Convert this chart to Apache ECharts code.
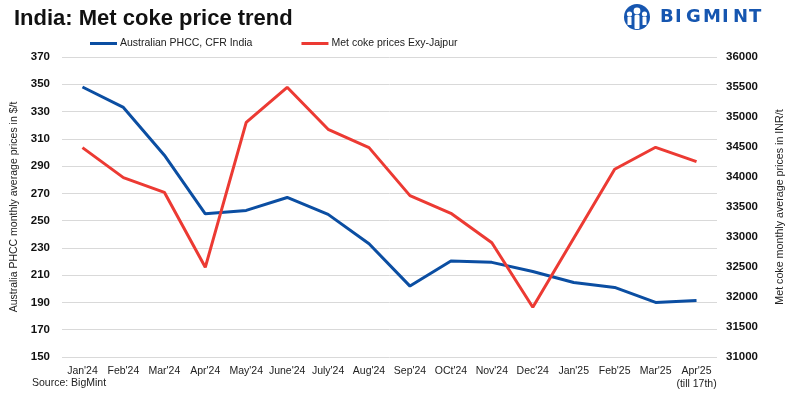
<!DOCTYPE html>
<html><head><meta charset="utf-8">
<script src="https://cdn.jsdelivr.net/npm/echarts@6/dist/echarts.min.js"></script>
<style>html,body{margin:0;padding:0;background:#fff}#c{width:794px;height:394px}</style>
</head><body><div id="c"></div>
<script>
const categories = ["Jan'24","Feb'24","Mar'24","Apr'24","May'24","June'24","July'24","Aug'24","Sep'24","OCt'24","Nov'24","Dec'24","Jan'25","Feb'25","Mar'25","Apr'25\n(till 17th)"];
const phcc = [348,333,298,255,257.5,267,254.6,233,202,220.4,219.4,212.7,204.6,201,190,191.5];
const metCoke = [34490,33990,33745,32495,34910,35495,34795,34490,33690,33395,32905,31830,32980,34130,34495,34255];
const leftTicks = {min:150,max:370,interval:20};
const rightTicks = {min:31000,max:36000,interval:500};

const chart = echarts.init(document.getElementById('c'), null, {renderer:'canvas'});
const font = 'Liberation Sans, Arial, sans-serif';
const logoLetters = ['B','I','G','M','I','N','T'];
const logoX = [660,675,686,703,722,733,749];
const logo = logoLetters.map((ch,i)=>({type:'text',left:logoX[i],top:8,
  style:{text:ch,fontSize:18,fontWeight:'bold',fill:'#1656b0',fontFamily:'DejaVu Sans, sans-serif'}}));
chart.setOption({
  animation:false,
  textStyle:{fontFamily:font},
  title:{text:'India: Met coke price trend',left:9,top:3,textStyle:{fontSize:22,fontWeight:'bold',color:'#111',fontFamily:font}},
  legend:{top:33,left:85,itemGap:49,itemWidth:27,itemHeight:3,icon:'rect',textStyle:{fontSize:10.5,color:'#222',padding:[0,0,0,-2]},
    data:['Australian PHCC, CFR India','Met coke prices Exy-Jajpur']},
  grid:{left:62,right:77,top:57,bottom:37,containLabel:false,outerBoundsMode:'none'},
  xAxis:{type:'category',data:categories,boundaryGap:true,
    axisLine:{show:false},axisTick:{show:false},
    axisLabel:{fontSize:10.5,color:'#222',margin:8,interval:0,lineHeight:13}},
  yAxis:[
    {type:'value',min:leftTicks.min,max:leftTicks.max,interval:leftTicks.interval,position:'left',
     name:'Australia PHCC monthly average prices in $/t',nameLocation:'middle',nameGap:42,nameRotate:90,
     nameTextStyle:{fontSize:10.5,color:'#222'},
     axisLabel:{fontSize:11.5,fontWeight:'bold',color:'#111',margin:12},
     splitLine:{lineStyle:{color:'#d9d9d9',width:1}},axisLine:{show:false},axisTick:{show:false}},
    {type:'value',min:rightTicks.min,max:rightTicks.max,interval:rightTicks.interval,position:'right',
     name:'Met coke monthly average prices in INR/t',nameLocation:'middle',nameGap:58,nameRotate:90,
     nameTextStyle:{fontSize:10.7,color:'#222'},
     axisLabel:{fontSize:11.5,fontWeight:'bold',color:'#111',margin:9,formatter:v=>String(v)},
     splitLine:{show:false},axisLine:{show:false},axisTick:{show:false}}
  ],
  series:[
    {name:'Australian PHCC, CFR India',type:'line',yAxisIndex:0,data:phcc,symbol:'none',
     lineStyle:{color:'#0b4ea2',width:3},itemStyle:{color:'#0b4ea2'}},
    {name:'Met coke prices Exy-Jajpur',type:'line',yAxisIndex:1,data:metCoke,symbol:'none',
     lineStyle:{color:'#ec3a33',width:3},itemStyle:{color:'#ec3a33'}}
  ],
  graphic:[
    {type:'text',left:32,top:378,style:{text:'Source: BigMint',fontSize:10.5,fill:'#222',fontFamily:font}},
    {type:'group',left:624,top:4,children:[
      {type:'circle',shape:{cx:13,cy:13,r:13},style:{fill:'#1656b0'}},
      {type:'circle',shape:{cx:13,cy:7,r:3.4},style:{fill:'#fff'}},
      {type:'rect',shape:{x:10.5,y:11,width:5,height:14,r:1},style:{fill:'#fff'}},
      {type:'circle',shape:{cx:5.5,cy:10,r:2.6},style:{fill:'#fff'}},
      {type:'circle',shape:{cx:20.5,cy:10,r:2.6},style:{fill:'#fff'}},
      {type:'rect',shape:{x:3.5,y:13,width:4,height:8},style:{fill:'#fff'}},
      {type:'rect',shape:{x:18.5,y:13,width:4,height:8},style:{fill:'#fff'}}
    ]}
  ].concat(logo)
});
</script></body></html>
